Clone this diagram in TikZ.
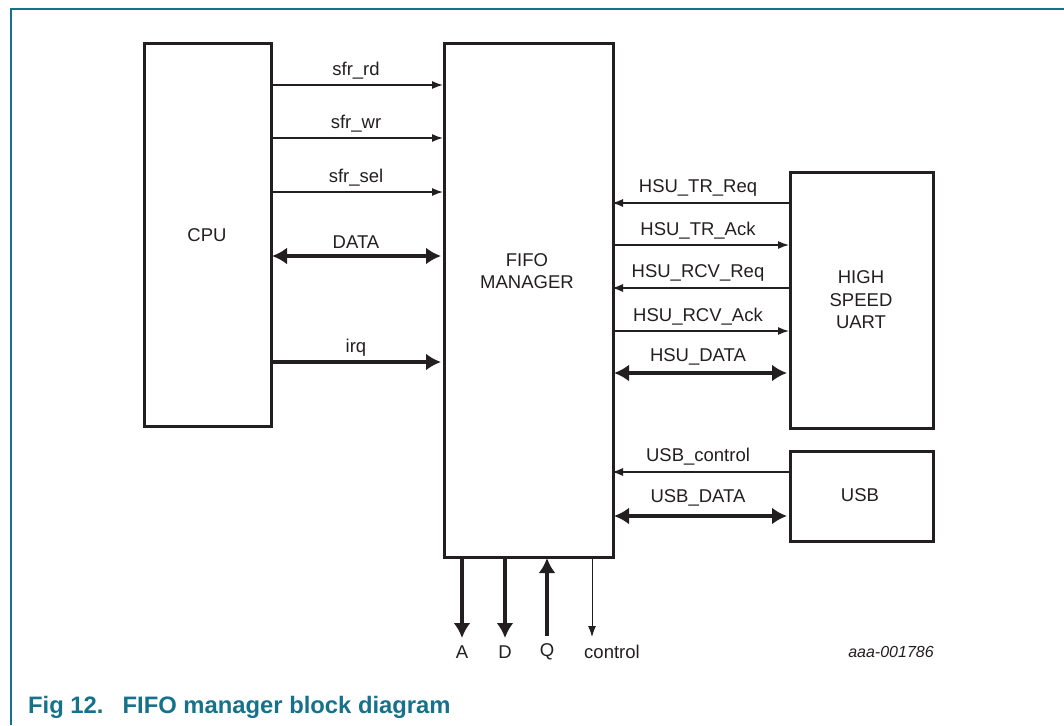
\documentclass[tikz,border=0pt]{standalone}
\usepackage{fontspec}
\setmainfont{Liberation Sans}
\usetikzlibrary{arrows.meta}
\definecolor{ink}{HTML}{231F20}
\definecolor{nxp}{HTML}{16718A}
\tikzset{
  blk/.style={draw=ink, line width=2.8pt, anchor=north west, inner sep=0pt},
  lbl/.style={text=ink, font=\fontsize{18.5}{22.5}\selectfont, inner sep=0pt, align=center},
  sig/.style={draw=ink, line width=1.3pt, -{Latex[length=11pt,width=8pt]}},
  bus/.style={draw=ink, line width=4.5pt, -{Latex[length=15pt,width=17pt]}},
  bibus/.style={draw=ink, line width=4.5pt, {Latex[length=15pt,width=17pt]}-{Latex[length=15pt,width=17pt]}}
}
\begin{document}
\begin{tikzpicture}[x=1pt,y=-1pt]
\useasboundingbox (0,0) rectangle (1064,725);
% frame
\draw[nxp, line width=1.5pt] (1064,9) -- (11,9) -- (11,725);
% blocks
\node[blk, minimum width=127pt, minimum height=383pt] (cpu) at (143,42) {};
\node[blk, minimum width=169pt, minimum height=514pt] (fifo) at (443,42) {};
\node[blk, minimum width=143pt, minimum height=256pt] (hsu) at (789,171) {};
\node[blk, minimum width=143pt, minimum height=90pt] (usb) at (789,450) {};
\node[lbl] (tcpu) at (207,235) {CPU};
\node[lbl] (tfifo) at (527,271) {FIFO\\MANAGER};
\node[lbl] (thsu) at (861,300) {HIGH\\SPEED\\UART};
\node[lbl] (tusb) at (860,495) {USB};
% CPU side
\coordinate (c1) at (270,85); \coordinate (f1) at (443,85);
\coordinate (c2) at (270,138); \coordinate (f2) at (443,138);
\coordinate (c3) at (270,192); \coordinate (f3) at (443,192);
\coordinate (c4) at (272,256); \coordinate (f4) at (441,256);
\coordinate (c5) at (270,362); \coordinate (f5) at (441,362);
\draw[sig] (c1) -- (f1);
\draw[sig] (c2) -- (f2);
\draw[sig] (c3) -- (f3);
\draw[bibus] (c4) -- (f4);
\draw[bus] (c5) -- (f5);
\node[lbl] (l1) at (356,71) {sfr\_rd};
\node[lbl] (l2) at (356,124) {sfr\_wr};
\node[lbl] (l3) at (356,178) {sfr\_sel};
\node[lbl] (l4) at (356,242) {DATA};
\node[lbl] (l5) at (356,348) {irq};
% HSU side
\coordinate (h1) at (789,203); \coordinate (g1) at (612,203);
\coordinate (h2) at (789,245); \coordinate (g2) at (612,245);
\coordinate (h3) at (789,288); \coordinate (g3) at (612,288);
\coordinate (h4) at (789,331); \coordinate (g4) at (612,331);
\coordinate (h5) at (787,373); \coordinate (g5) at (614,373);
\draw[sig] (h1) -- (g1);
\draw[sig] (g2) -- (h2);
\draw[sig] (h3) -- (g3);
\draw[sig] (g4) -- (h4);
\draw[bibus] (g5) -- (h5);
\node[lbl] (m1) at (698,188) {HSU\_TR\_Req};
\node[lbl] (m2) at (698,231) {HSU\_TR\_Ack};
\node[lbl] (m3) at (698,273) {HSU\_RCV\_Req};
\node[lbl] (m4) at (698,317) {HSU\_RCV\_Ack};
\node[lbl] (m5) at (698,357) {HSU\_DATA};
% USB side
\coordinate (u1) at (789,472); \coordinate (v1) at (612,472);
\coordinate (u2) at (787,516); \coordinate (v2) at (614,516);
\draw[sig] (u1) -- (v1);
\draw[bibus] (v2) -- (u2);
\node[lbl] (n1) at (698,457) {USB\_control};
\node[lbl] (n2) at (698,498) {USB\_DATA};
% bottom
\coordinate (a0) at (462,556); \coordinate (a1) at (462,638);
\coordinate (d0) at (505,556); \coordinate (d1) at (505,638);
\coordinate (q0) at (547,636); \coordinate (q1) at (547,558);
\coordinate (k0) at (592,556); \coordinate (k1) at (592,637);
\draw[bus] (a0) -- (a1);
\draw[bus] (d0) -- (d1);
\draw[bus] (q0) -- (q1);
\draw[sig, line width=1pt] (k0) -- (k1);
\node[lbl] (ta) at (462,652) {A};
\node[lbl] (td) at (505,652) {D};
\node[lbl] (tq) at (547,652) {Q};
\node[lbl] (tk) at (612,652) {control};
\node[lbl, font=\fontsize{16}{18}\selectfont\itshape] (id) at (891,652) {aaa-001786};
% caption
\node[anchor=west, inner sep=0pt, text=nxp, font=\fontsize{23.8}{28}\selectfont\bfseries] (cap) at (28,707) {Fig 12.\hspace{0.8em}FIFO manager block diagram};
\end{tikzpicture}
\end{document}
